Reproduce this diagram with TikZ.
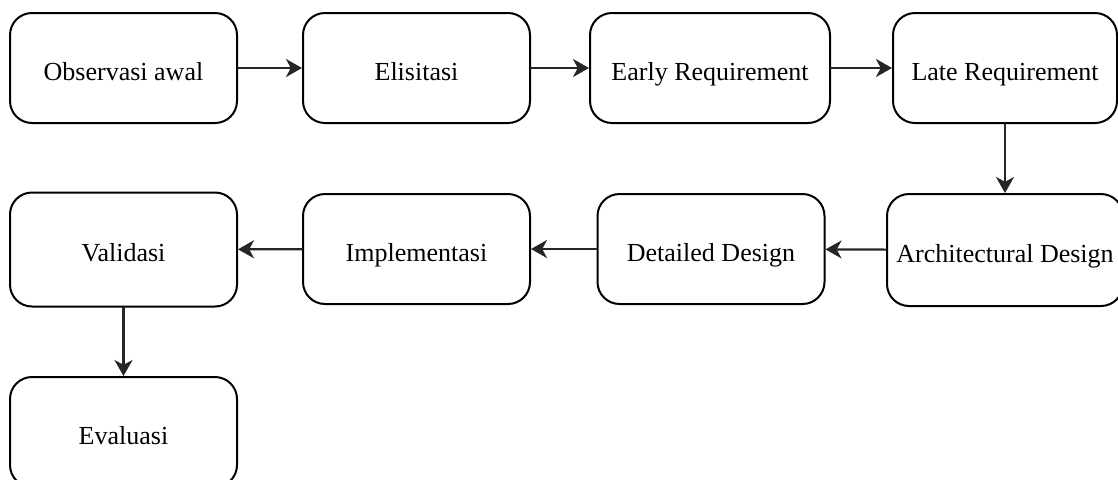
\documentclass[tikz,border=0pt]{standalone}
\usepackage{fontspec}
\setmainfont{Liberation Serif}
\usetikzlibrary{arrows.meta}
\begin{document}
\begin{tikzpicture}[x=0.5pt,y=-0.5pt,line cap=round,line join=round,>={Stealth[length=8pt,width=9pt,inset=2.4pt]},
	tahap/.style={draw=black,line width=1pt,rounded corners=11pt,minimum width=113.5pt,minimum height=55pt,inner sep=0pt,text height=13pt,text depth=1pt,font=\fontsize{13}{15}\selectfont},
	alur/.style={->,line width=1.1pt,color=black!85}]
	\useasboundingbox (0,0) rectangle (1118,479);
	% baris atas
	\node[tahap] (obs) at (123.5,68) {Observasi awal};
	\node[tahap] (eli) at (416.5,68) {Elisitasi};
	\node[tahap,minimum width=120pt] (early) at (710,68) {Early Requirement};
	\node[tahap,minimum width=112pt] (late) at (1005,68) {Late Requirement};
	% baris tengah
	\node[tahap,minimum width=118pt,minimum height=56pt] (arch) at (1005,250) {Architectural Design};
	\node[tahap] (det) at (711,249) {Detailed Design};
	\node[tahap] (impl) at (416.5,249) {Implementasi};
	\node[tahap,minimum height=57pt] (val) at (123.5,249.5) {Validasi};
	% baris bawah
	\node[tahap] (eval) at (123.5,432) {Evaluasi};
	\draw[alur] (obs) -- (eli);
	\draw[alur] (eli) -- (early);
	\draw[alur] (early) -- (late);
	\draw[alur] (late) -- (arch);
	\draw[alur] (arch) -- (det);
	\draw[alur] (det) -- (impl);
	\draw[alur] (impl) -- (val);
	\draw[alur] (val) -- (eval);
\end{tikzpicture}
\end{document}
